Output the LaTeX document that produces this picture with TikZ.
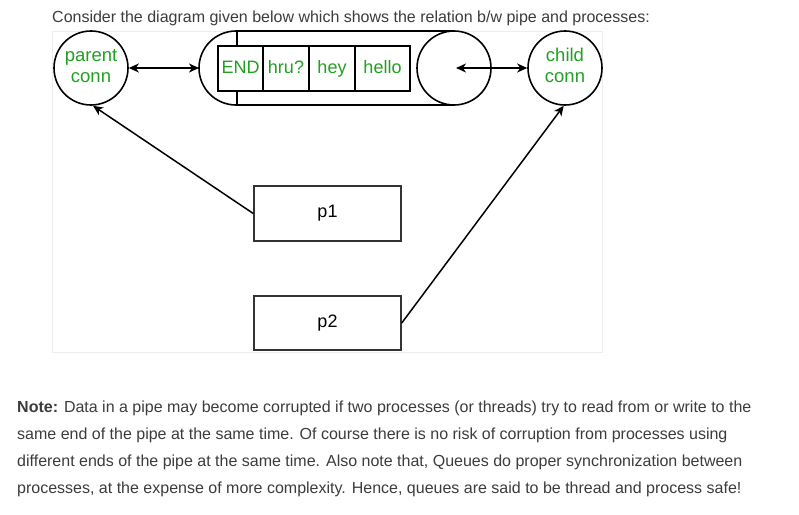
\documentclass[tikz,border=0pt]{standalone}
\usepackage{fontspec}
\setmainfont{Liberation Sans}
\usetikzlibrary{arrows.meta,calc}
\definecolor{txtgray}{HTML}{3C3C3C}
\definecolor{lblgreen}{HTML}{22A022}
\definecolor{panel}{HTML}{EEEEEE}
\begin{document}
\begin{tikzpicture}[x=1pt,y=-1pt,
  shapeline/.style={draw=black,line width=1.6pt},
  conn/.style={circle,shapeline,minimum size=74pt,inner sep=0pt,align=center,
    text=lblgreen,font=\fontsize{18.5}{21}\selectfont},
  cell/.style={draw=black,line width=1.4pt,fill=white,minimum height=45pt,inner sep=0pt,
    text height=13pt,text depth=3.5pt,
    text=lblgreen,font=\fontsize{18}{20}\selectfont},
  proc/.style={draw=black!80,line width=1.5pt,minimum width=147pt,minimum height=55pt,
    inner sep=0pt,font=\fontsize{18}{20}\selectfont},
  link/.style={line width=1.5pt,black},
  tipa/.style={-{Stealth[length=10pt,width=9pt,inset=3pt]}},
  tipb/.style={{Stealth[length=10pt,width=9pt,inset=3pt]}-{Stealth[length=10pt,width=9pt,inset=3pt]}},
  bodytext/.style={anchor=base west,inner sep=0pt,text=txtgray,font=\fontsize{16}{18}\selectfont}
]
\useasboundingbox (0,0) rectangle (799,514);
\fill[white] (0,0) rectangle (799,514);
% panel
\draw[panel,line width=0.8pt] (52,31) rectangle (602,352);
% title
\node[bodytext] (title) at (52,22) {Consider the diagram given below which shows the relation b/w pipe and processes:};
% pipe body
\draw[shapeline] (454,31) -- (236,31) arc[start angle=270,end angle=90,radius=37] -- (454,105);
\draw[line width=1.4pt] (237,31) -- (237,105);
\node[circle,shapeline,minimum size=74pt,inner sep=0pt,fill=white] (pipeend) at (454,68) {};
\coordinate (pipeL) at (199,68);
\coordinate (pipeR) at (456,68);
% cells
\node[cell,minimum width=45pt] (c1) at (240.5,68.5) {END};
\node[cell,minimum width=46pt] (c2) at (286,68.5) {hru?};
\node[cell,minimum width=46pt] (c3) at (332,68.5) {hey};
\node[cell,minimum width=55pt] (c4) at (382.5,68.5) {hello};
% conns
\node[conn] (parent) at (91,68) {\strut parent\\\strut conn};
\node[conn] (child) at (565,68) {\strut child\\\strut conn};
% processes
\node[proc] (p1) at (327.5,213.5) {p1};
\node[proc,minimum height=54pt] (p2) at (327.5,323) {p2};
% arrows
\draw[link,tipb] (parent.east) -- (pipeL);
\draw[link,tipb] (pipeR) -- (child.west);
\draw[link,tipa] (p1.west) -- (parent.273);
\draw[link,tipa] (p2.east) -- (child.268);
% note
\node[bodytext] (n1) at (17,412) {\textbf{Note:} Data in a pipe may become corrupted if two processes (or threads) try to read from or write to the};
\node[bodytext] (n2) at (17,439) {same end of the pipe at the same time. Of course there is no risk of corruption from processes using};
\node[bodytext] (n3) at (17,466) {different ends of the pipe at the same time. Also note that, Queues do proper synchronization between};
\node[bodytext] (n4) at (17,493) {processes, at the expense of more complexity. Hence, queues are said to be thread and process safe!};
\end{tikzpicture}
\end{document}
